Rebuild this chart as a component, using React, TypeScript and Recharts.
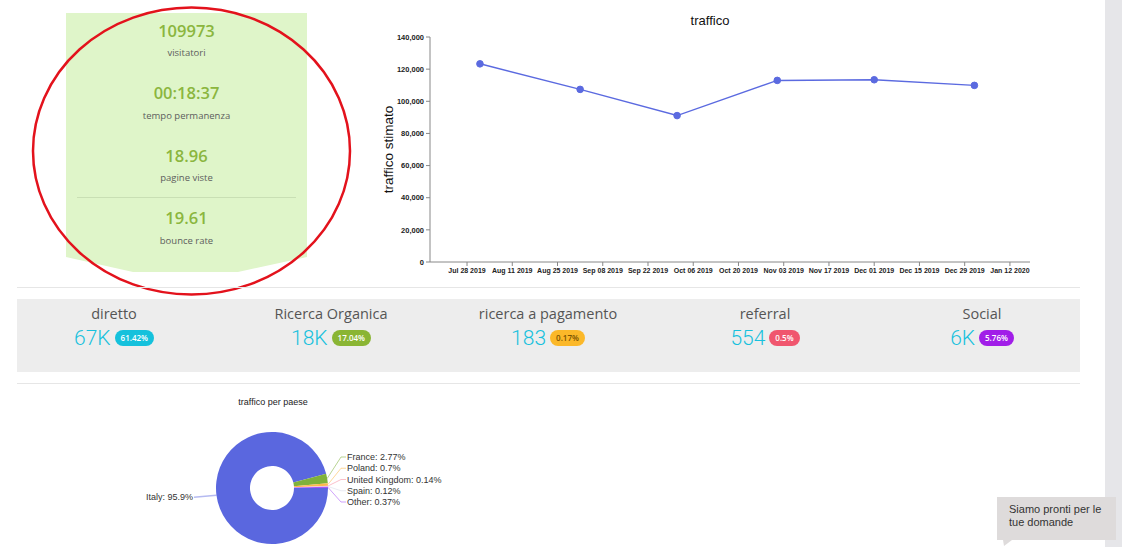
import React from 'react';
import { LineChart, Line, XAxis, YAxis, PieChart, Pie, Cell } from 'recharts';

// traffico stimato per mese
const trafficDates = ['2019-08-01', '2019-09-01', '2019-10-01', '2019-11-01', '2019-12-01', '2020-01-01'];
const trafficValues = [123300, 107400, 91100, 113000, 113400, 109900];

const xTickDates = [
  '2019-07-28', '2019-08-11', '2019-08-25', '2019-09-08', '2019-09-22', '2019-10-06', '2019-10-20',
  '2019-11-03', '2019-11-17', '2019-12-01', '2019-12-15', '2019-12-29', '2020-01-12',
];
const yTicks = [0, 20000, 40000, 60000, 80000, 100000, 120000, 140000];

// riquadro verde
const summaryValues = ['109973', '00:18:37', '18.96', '19.61'];
const summaryLabels = ['visitatori', 'tempo permanenza', 'pagine viste', 'bounce rate'];

// canali
const channelNames = ['diretto', 'Ricerca Organica', 'ricerca a pagamento', 'referral', 'Social'];
const channelTotals = ['67K', '18K', '183', '554', '6K'];
const channelShares = ['61.42%', '17.04%', '0.17%', '0.5%', '5.76%'];
const channelBadgeColors = ['#15c1dc', '#8ab534', '#fbb829', '#f0566e', '#a11ee8'];
const channelBadgeText = ['#ffffff', '#ffffff', '#7a5200', '#ffffff', '#ffffff'];

// traffico per paese
const countries = ['Italy', 'France', 'Poland', 'United Kingdom', 'Spain', 'Other'];
const countryShares = [95.9, 2.77, 0.7, 0.14, 0.12, 0.37];
const countryColors = ['#5a67df', '#7fb13a', '#fdb94b', '#f78ca0', '#d9d9e8', '#a855f7'];

const trafficData = trafficDates.map((d, i) => ({ date: new Date(d).getTime(), value: trafficValues[i] }));
const xTicks = xTickDates.map((d) => new Date(d).getTime());
const countryData = countries.map((name, i) => ({ name, value: countryShares[i] }));

const MONTHS = ['Jan', 'Feb', 'Mar', 'Apr', 'May', 'Jun', 'Jul', 'Aug', 'Sep', 'Oct', 'Nov', 'Dec'];
const dateFormatter = (t: number) => {
  const d = new Date(t);
  return `${MONTHS[d.getUTCMonth()]} ${String(d.getUTCDate()).padStart(2, '0')} ${d.getUTCFullYear()}`;
};
const numberFormatter = (v: number) => v.toLocaleString('en-US');

const axisFont = "'Liberation Sans Narrow', 'Liberation Sans', Arial, sans-serif";
const uiFont = "'Open Sans', 'Noto Sans', sans-serif";

// etichetta ruotata dell'asse Y
const YAxisTitle = (props: any) => {
  const vb = props.viewBox || { x: 0, y: 29, width: 60, height: 225 };
  const x = vb.x + 18;
  const y = vb.y + vb.height / 2;
  return (
    <text x={x} y={y} transform={`rotate(-90 ${x} ${y})`} textAnchor="middle" dominantBaseline="central"
      fontFamily="'Liberation Sans', Arial, sans-serif" fontSize={13.5} fill="#111">
      traffico stimato
    </text>
  );
};

const RADIAN = Math.PI / 180;
// etichette della torta con linee guida
const renderCountryLabel = (props: any) => {
  const { cx, cy, midAngle, outerRadius, index, name, value, fill } = props;
  const sx = cx + outerRadius * Math.cos(-midAngle * RADIAN);
  const sy = cy + outerRadius * Math.sin(-midAngle * RADIAN);
  const text = `${name}: ${value}%`;
  if (index === 0) {
    const ex = cx - outerRadius - 22;
    const ey = sy + 2;
    return (
      <g>
        <polyline points={`${sx},${sy} ${ex},${ey}`} fill="none" stroke={fill} strokeOpacity={0.45} strokeWidth={1.5} />
        <text x={ex - 1} y={ey} textAnchor="end" dominantBaseline="central" fontSize={9}
          fontFamily="'Liberation Sans', Arial, sans-serif" fill="#333">{text}</text>
      </g>
    );
  }
  const ly = cy - 31 + (index - 1) * 11.25;
  const elbowX = cx + outerRadius + 13;
  const lx = elbowX + 5;
  return (
    <g>
      <polyline points={`${sx},${sy} ${elbowX},${ly} ${lx},${ly}`} fill="none" stroke={fill} strokeOpacity={0.55} strokeWidth={1} />
      <text x={lx + 1} y={ly} textAnchor="start" dominantBaseline="central" fontSize={9}
        fontFamily="'Liberation Sans', Arial, sans-serif" fill="#333">{text}</text>
    </g>
  );
};

const SummaryPanel = () => (
  <>
    <div style={{
      position: 'absolute', left: 66, top: 13, width: 241, height: 259, background: '#dff5c9',
      clipPath: 'polygon(0 0, 100% 0, 100% 244px, 172px 259px, 67px 259px, 0 244px)',
    }} />
    {summaryValues.map((v, i) => {
      const c = 30.7 + i * 62.5;
      return (
        <React.Fragment key={v}>
          <div style={{
            position: 'absolute', left: 66, width: 241, top: c - 11, height: 22, lineHeight: '22px',
            textAlign: 'center', color: '#8bb63e', fontFamily: uiFont, fontWeight: 600, fontSize: 16.5,
          }}>{v}</div>
          <div style={{
            position: 'absolute', left: 66, width: 241, top: c + 22.5 - 7, height: 14, lineHeight: '14px',
            textAlign: 'center', color: '#5d5d5d', fontFamily: uiFont, fontSize: 9.5,
          }}>{summaryLabels[i]}</div>
        </React.Fragment>
      );
    })}
    <div style={{ position: 'absolute', left: 77, top: 197, width: 219, height: 1, background: '#c9dfb4' }} />
    <svg width={1122} height={547} style={{ position: 'absolute', left: 0, top: 0, pointerEvents: 'none' }}>
      <ellipse cx={191.5} cy={151} rx={158.5} ry={143.5} fill="none" stroke="#e3121c" strokeWidth={2.5} />
    </svg>
  </>
);

const ChannelBand = () => (
  <>
    <div style={{ position: 'absolute', left: 17, top: 287, width: 1063, height: 1, background: '#e6e6e6' }} />
    <div style={{ position: 'absolute', left: 17, top: 299, width: 1063, height: 73, background: '#ededed' }} />
    <div style={{ position: 'absolute', left: 17, top: 383, width: 1063, height: 1, background: '#e6e6e6' }} />
    {channelNames.map((name, i) => {
      const center = 114 + i * 217;
      return (
        <React.Fragment key={name}>
          <div style={{
            position: 'absolute', left: center - 108, width: 216, top: 304, height: 20, lineHeight: '20px',
            textAlign: 'center', color: '#555', fontFamily: uiFont, fontSize: 14.5,
          }}>{name}</div>
          <div style={{
            position: 'absolute', left: center - 108, width: 216, top: 325, height: 26,
            display: 'flex', justifyContent: 'center', alignItems: 'center', gap: 4,
          }}>
            <span style={{ color: '#17c1dd', fontFamily: 'Roboto, sans-serif', fontWeight: 300, fontSize: 21, lineHeight: '26px' }}>
              {channelTotals[i]}
            </span>
            <span style={{
              background: channelBadgeColors[i], color: channelBadgeText[i], borderRadius: 8, height: 16,
              lineHeight: '16px', padding: '0 6px', fontFamily: uiFont, fontSize: 8, fontWeight: 600,
            }}>{channelShares[i]}</span>
          </div>
        </React.Fragment>
      );
    })}
  </>
);

const App = () => (
  <div style={{ position: 'absolute', left: 0, top: 0, width: 1122, height: 547, overflow: 'hidden', background: '#fff' }}>
    <SummaryPanel />

    <div style={{
      position: 'absolute', left: 610, width: 200, top: 12, height: 18, lineHeight: '18px', textAlign: 'center',
      fontFamily: "'Liberation Sans', Arial, sans-serif", fontSize: 13, color: '#111',
    }}>traffico</div>
    <div style={{ position: 'absolute', left: 370, top: 8 }}>
      <LineChart width={680} height={280} data={trafficData} margin={{ top: 29, right: 20, left: 0, bottom: 0 }}>
        <XAxis dataKey="date" type="number" domain={[Date.UTC(2019, 6, 16, 13), Date.UTC(2020, 0, 18, 5)]}
          ticks={xTicks} tickFormatter={dateFormatter} interval={0} height={26} tickSize={4}
          stroke="#888" tick={{ fill: '#222', fontSize: 7, fontFamily: axisFont, fontWeight: 700 }} />
        <YAxis domain={[0, 140000]} ticks={yTicks} tickFormatter={numberFormatter} width={60} tickSize={4}
          stroke="#888" tick={{ fill: '#222', fontSize: 7.5, fontFamily: axisFont, fontWeight: 700 }}
          label={YAxisTitle} />
        <Line type="linear" dataKey="value" stroke="#5b6ae0" strokeWidth={1.5}
          dot={{ r: 3.3, fill: '#5b6ae0', stroke: '#5b6ae0', strokeWidth: 1 }} isAnimationActive={false} />
      </LineChart>
    </div>

    <ChannelBand />

    <div style={{
      position: 'absolute', left: 173, width: 200, top: 395, height: 14, lineHeight: '14px', textAlign: 'center',
      fontFamily: "'Liberation Sans', Arial, sans-serif", fontSize: 9, color: '#222',
    }}>traffico per paese</div>
    <div style={{ position: 'absolute', left: 120, top: 390 }}>
      <PieChart width={360} height={157}>
        <Pie data={countryData} dataKey="value" nameKey="name" cx={147} cy={93} innerRadius={22} outerRadius={56}
          startAngle={0} endAngle={-360} stroke="none" label={renderCountryLabel} labelLine={false}
          isAnimationActive={false}>
          {countryData.map((d, i) => <Cell key={d.name} fill={countryColors[i]} />)}
        </Pie>
      </PieChart>
    </div>

    <div style={{ position: 'absolute', left: 1105, top: 0, width: 17, height: 547, background: '#e6e6e9' }} />
    <div style={{
      position: 'absolute', left: 997, top: 497, width: 119, height: 43, background: '#dedbdb', boxSizing: 'border-box',
      padding: '6px 10px 0 12px', fontFamily: "'Liberation Sans', Arial, sans-serif", fontSize: 11, lineHeight: '13px', color: '#333',
    }}>Siamo pronti per le<br />tue domande</div>
    <svg width={12} height={7} style={{ position: 'absolute', left: 1003, top: 540 }}>
      <polygon points="0,0 9,0 1,6" fill="#dedbdb" />
    </svg>
  </div>
);

export default App;
